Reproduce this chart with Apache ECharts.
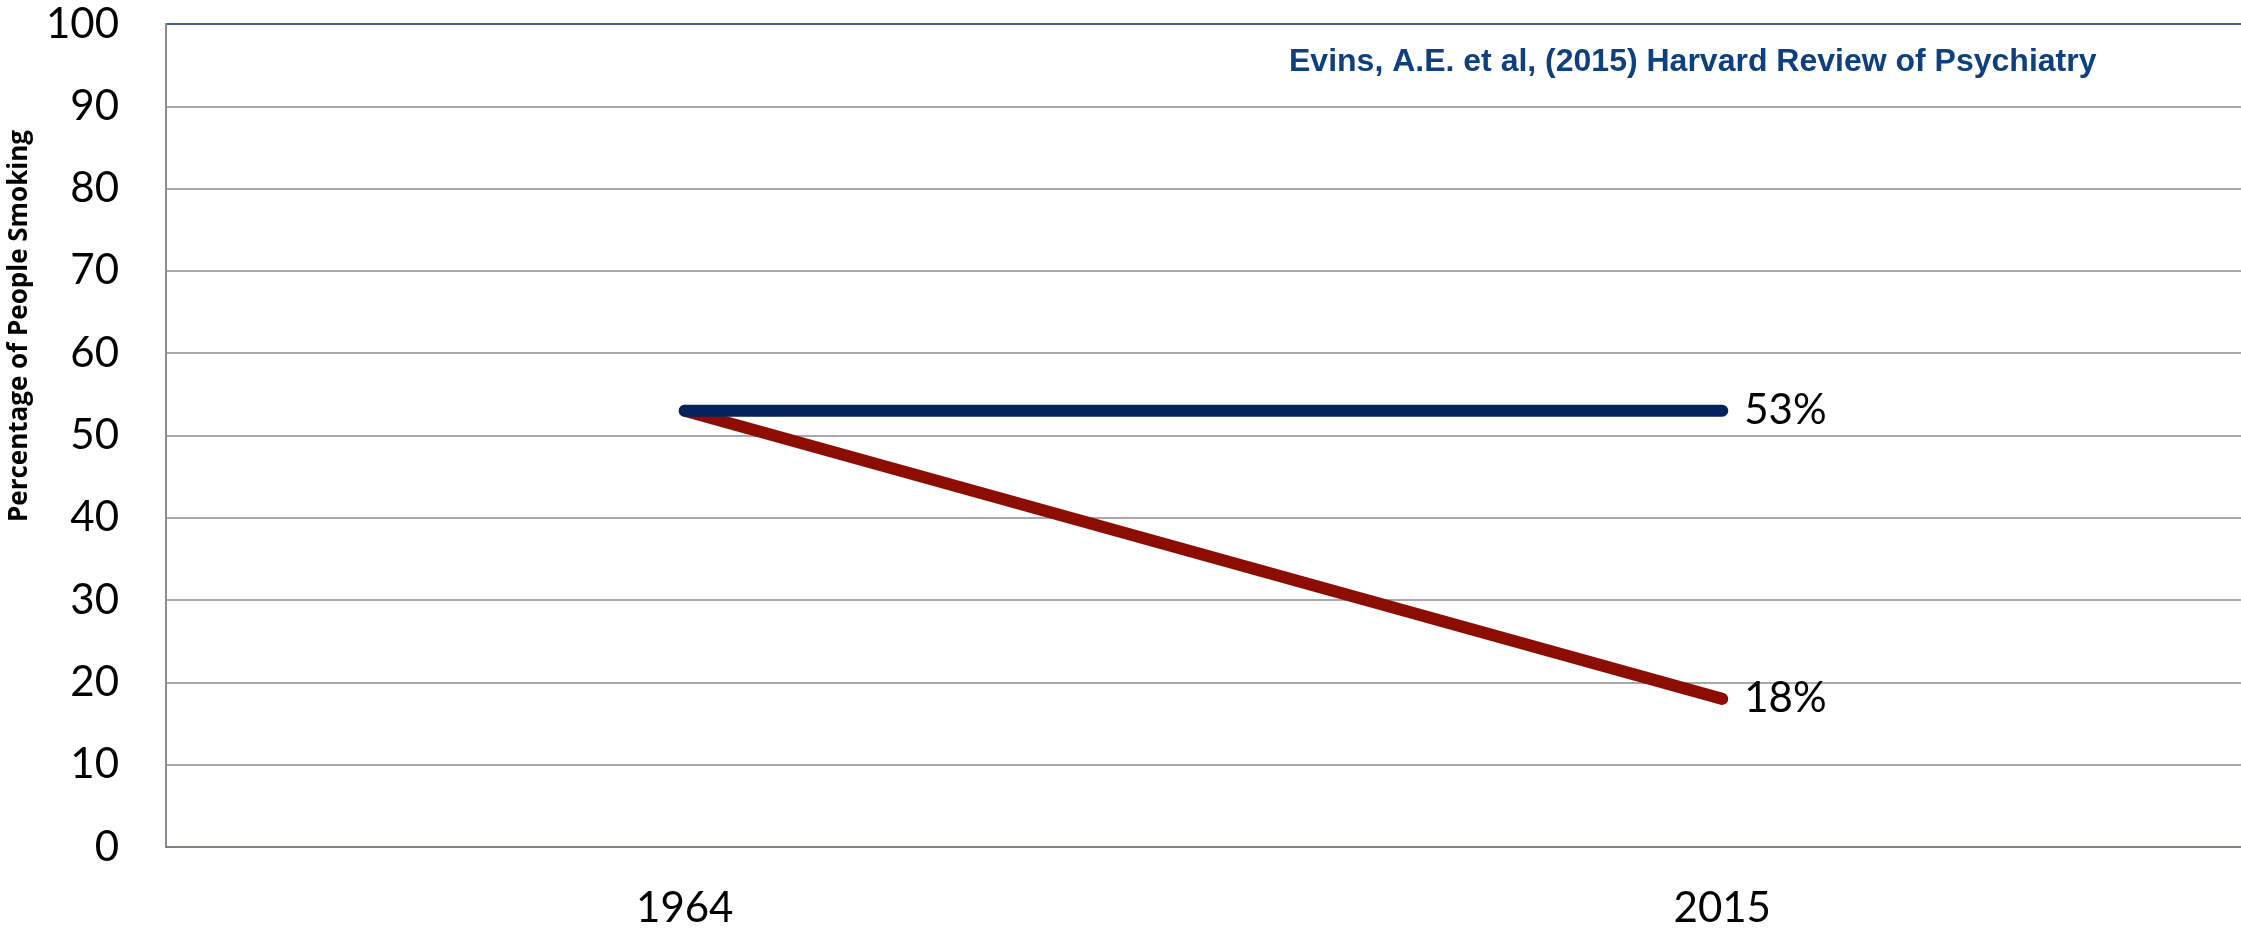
<!DOCTYPE html>
<html>
<head>
<meta charset="utf-8">
<title>Percentage of People Smoking</title>
<script src="https://cdn.jsdelivr.net/npm/echarts@6/dist/echarts.min.js"></script>
<style>
  html, body { margin: 0; padding: 0; background: #ffffff; }
  #chart { width: 2241px; height: 930px; }
</style>
</head>
<body>
<div id="chart"></div>
<script>
// Survey years on the x axis
const years = ['1964', '2015'];
// Smoking rates (%) for the two groups
const flatSeries = [53, 53];
const fallingSeries = [53, 18];
// Value axis ticks
const yTicks = [0, 10, 20, 30, 40, 50, 60, 70, 80, 90, 100];

const axisTitle = 'Percentage of People Smoking';
const citation = 'Evins, A.E. et al, (2015) Harvard Review of Psychiatry';

const chart = echarts.init(document.getElementById('chart'), null, { renderer: 'canvas' });

// grid lines: grey, except the top one which is navy
const splitColors = yTicks.map(function (t) { return t === 100 ? '#0B2A66' : '#8C8C8C'; });

const labelFont = { fontFamily: 'Lato', fontSize: 42, color: '#000000' };

chart.setOption({
  animation: false,
  backgroundColor: '#ffffff',
  grid: { left: 166, top: 24, bottom: 83, right: -3, containLabel: false },
  xAxis: {
    type: 'category',
    data: years,
    boundaryGap: true,
    axisLine: { show: true, lineStyle: { color: '#7F8089', width: 2 } },
    axisTick: { show: false },
    axisLabel: Object.assign({ margin: 40 }, labelFont),
    splitLine: { show: false }
  },
  yAxis: {
    type: 'value',
    min: yTicks[0],
    max: yTicks[yTicks.length - 1],
    interval: 10,
    axisLine: { show: true, lineStyle: { color: '#8C8C8C', width: 2 } },
    axisTick: { show: false },
    axisLabel: Object.assign({ margin: 47 }, labelFont),
    splitLine: { show: true, lineStyle: { color: splitColors, width: 1.5 } }
  },
  series: [
    {
      name: 'Falling',
      type: 'line',
      data: fallingSeries,
      symbol: 'none',
      lineStyle: { color: '#8E0D03', width: 12, cap: 'round' },
      endLabel: {
        show: true,
        distance: 22,
        formatter: function (p) { return p.value + '%'; },
        fontFamily: 'Lato', fontSize: 42, color: '#000000'
      },
      z: 3
    },
    {
      name: 'Flat',
      type: 'line',
      data: flatSeries,
      symbol: 'none',
      lineStyle: { color: '#05215E', width: 12, cap: 'round' },
      endLabel: {
        show: true,
        distance: 22,
        formatter: function (p) { return p.value + '%'; },
        fontFamily: 'Lato', fontSize: 42, color: '#000000'
      },
      z: 4
    }
  ],
  graphic: [
    {
      type: 'text',
      x: 20,
      y: 326,
      rotation: Math.PI / 2,
      style: {
        text: axisTitle,
        fontFamily: 'Open Sans',
        fontWeight: 'bold',
        fontSize: 26,
        fill: '#000000',
        textAlign: 'center',
        textVerticalAlign: 'middle'
      }
    },
    {
      type: 'text',
      x: 1289,
      y: 62,
      style: {
        text: citation,
        fontFamily: 'Liberation Sans',
        fontWeight: 'bold',
        fontSize: 32,
        fill: '#0E3F7E',
        textAlign: 'left',
        textVerticalAlign: 'middle'
      }
    }
  ]
});
</script>
</body>
</html>
